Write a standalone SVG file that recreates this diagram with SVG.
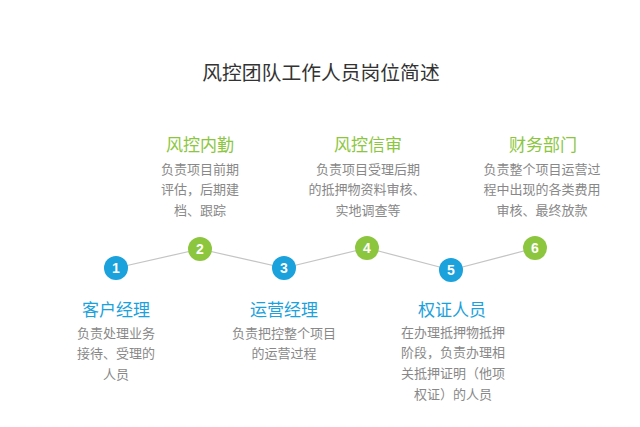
<svg xmlns="http://www.w3.org/2000/svg" width="640" height="427" viewBox="0 0 640 427">
<style>
text{font-family:"Noto Sans CJK SC","Liberation Sans",sans-serif;text-anchor:middle}
.title{font-size:19.8px;fill:#333}
.hg{font-size:17px;fill:#8cc63f}
.hb{font-size:17px;fill:#1ba1dc}
.body{font-size:13px;fill:#888}
.cb{fill:#1ba1dc}
.cg{fill:#8cc63f}
.num{font-family:"Liberation Sans",Arial,sans-serif;font-size:14px;font-weight:bold;fill:#fff}
.line{stroke:#c4c4c4;stroke-width:1.2;fill:none}
</style>
<rect width="640" height="427" fill="#fff"/>
<text class="title" x="321" y="80">风控团队工作人员岗位简述</text>
<g id="connectors">
<line class="line" x1="116" y1="268" x2="200" y2="249"/>
<line class="line" x1="200" y1="249" x2="284" y2="268"/>
<line class="line" x1="284" y1="268" x2="367" y2="248"/>
<line class="line" x1="367" y1="248" x2="451" y2="270"/>
<line class="line" x1="451" y1="270" x2="535" y2="248"/>
</g>
<g id="n1">
<circle class="cb" cx="116" cy="268" r="12"/>
<text class="num" x="116" y="273">1</text>
<text class="hb" x="116" y="316">客户经理</text>
<text class="body" x="116" y="338">负责处理业务</text>
<text class="body" x="116" y="358">接待、受理的</text>
<text class="body" x="116" y="379">人员</text>
</g>
<g id="n2">
<circle class="cg" cx="200" cy="249" r="12"/>
<text class="num" x="200" y="254">2</text>
<text class="hg" x="200" y="151">风控内勤</text>
<text class="body" x="200" y="174">负责项目前期</text>
<text class="body" x="200" y="194">评估，后期建</text>
<text class="body" x="200" y="215">档、跟踪</text>
</g>
<g id="n3">
<circle class="cb" cx="284" cy="268" r="12"/>
<text class="num" x="284" y="273">3</text>
<text class="hb" x="284" y="316">运营经理</text>
<text class="body" x="284" y="338">负责把控整个项目</text>
<text class="body" x="284" y="358">的运营过程</text>
</g>
<g id="n4">
<circle class="cg" cx="367" cy="248" r="12"/>
<text class="num" x="367" y="253">4</text>
<text class="hg" x="368" y="151">风控信审</text>
<text class="body" x="368" y="174">负责项目受理后期</text>
<text class="body" x="367" y="194">的抵押物资料审核、</text>
<text class="body" x="368" y="215">实地调查等</text>
</g>
<g id="n5">
<circle class="cb" cx="451" cy="270" r="12"/>
<text class="num" x="451" y="275">5</text>
<text class="hb" x="452" y="316">权证人员</text>
<text class="body" x="453" y="337">在办理抵押物抵押</text>
<text class="body" x="453" y="357">阶段，负责办理相</text>
<text class="body" x="453" y="378">关抵押证明（他项</text>
<text class="body" x="453" y="399">权证）的人员</text>
</g>
<g id="n6">
<circle class="cg" cx="535" cy="248" r="12"/>
<text class="num" x="535" y="253">6</text>
<text class="hg" x="543" y="151">财务部门</text>
<text class="body" x="542" y="174">负责整个项目运营过</text>
<text class="body" x="542" y="194">程中出现的各类费用</text>
<text class="body" x="542" y="215">审核、最终放款</text>
</g>
</svg>
